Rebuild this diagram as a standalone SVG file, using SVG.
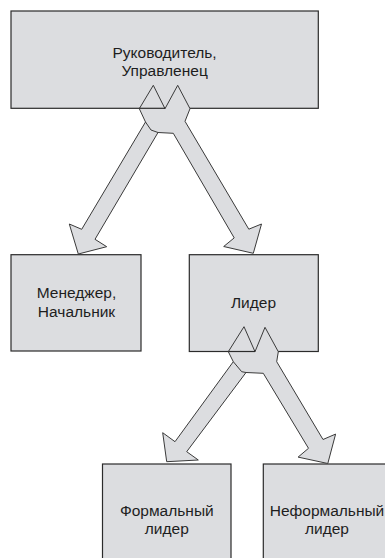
<svg xmlns="http://www.w3.org/2000/svg" width="385" height="558" viewBox="0 0 385 558">
<style>
.box{fill:#dcdde0;stroke:#2b2b2b;stroke-width:1.2}
.arr{fill:#dcdde0;stroke:#3a3a3a;stroke-width:1;stroke-linejoin:miter}
.ln{fill:none;stroke:#3a3a3a;stroke-width:1}
.bl{fill:none;stroke:#2b2b2b;stroke-width:1.2}
text{font-family:"Liberation Sans",Arial,sans-serif;font-size:15.5px;fill:#1e1e1e;text-anchor:middle}
</style>
<rect width="385" height="558" fill="#ffffff"/>
<g id="node-rukovoditel">
<rect class="box" x="11" y="11" width="307.3" height="97.3"/>
<text x="164.6" y="57.5">Руководитель,</text>
<text x="164.6" y="76">Управленец</text>
</g>
<g id="node-menedzher">
<rect class="box" x="11" y="254.7" width="130" height="96.3"/>
<text x="76.5" y="298.3">Менеджер,</text>
<text x="76.5" y="317.3">Начальник</text>
</g>
<g id="node-lider">
<rect class="box" x="189.3" y="254.7" width="129" height="96.8"/>
<text x="253.5" y="308.3">Лидер</text>
</g>
<g id="node-formalny">
<rect class="box" x="102.5" y="464" width="128.5" height="110"/>
<text x="166.8" y="515.5">Формальный</text>
<text x="166.8" y="533.5">лидер</text>
</g>
<g id="node-neformalny">
<rect class="box" x="263.3" y="464" width="128" height="110"/>
<text x="327" y="515.5">Неформальный</text>
<text x="327" y="533.5">лидер</text>
</g>
<g id="connectors">
<g id="arrows-top">
<polygon class="arr" points="153.3,85.3 165,108.7 177.7,85.3 190,108.7 185,121.3 248.8,229.2 261.5,224 253.3,253.3 223.7,246.5 234.2,237.9 173.3,133.3 158,132.5 95,239.3 106.7,246.7 78.3,254 69.3,224 81.7,229.3 145.5,122 139.3,108.7"/>
<line class="bl" x1="139.3" y1="108.3" x2="165" y2="108.3"/>
<polyline class="ln" points="145.5,122 151,130 158,132.5"/>
</g>
<g id="arrows-lider">
<polygon class="arr" points="244,326.7 255,351.7 265,327.3 278.3,351.7 276.7,361.7 323,439.5 335.6,434.1 327.8,463.5 298.1,457.1 308.5,448.3 263.3,373.3 246,372.5 186.7,451.7 198.3,460 166.7,461.7 162.7,432.7 175,441.7 233.3,361.7 228.3,351.7"/>
<line class="bl" x1="228.3" y1="351.5" x2="255" y2="351.5"/>
<polyline class="ln" points="233.3,361.7 241.7,371.7 246,372.5"/>
</g>
</g>
</svg>
